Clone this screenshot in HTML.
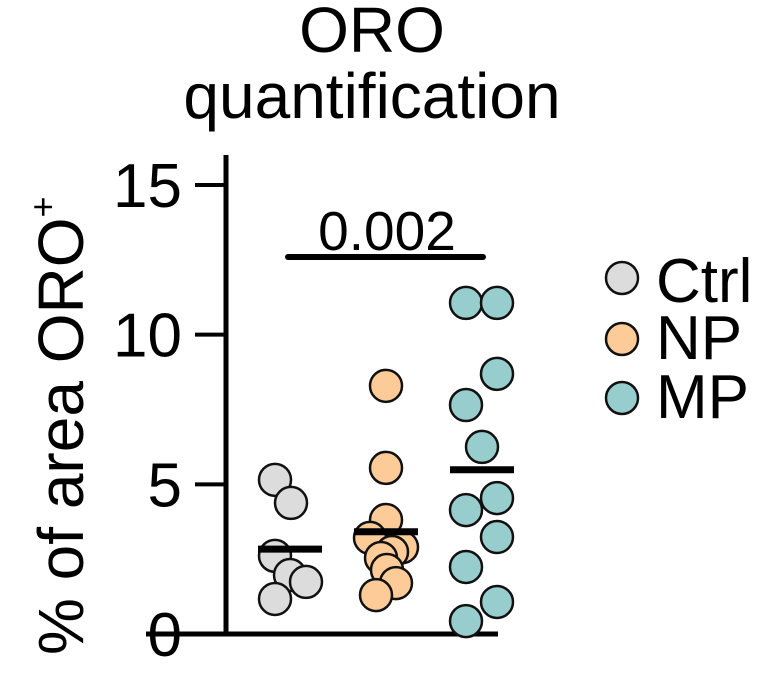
<!DOCTYPE html>
<html><head><meta charset="utf-8"><style>
html,body{margin:0;padding:0;background:#fff;}
svg{display:block;font-family:"Liberation Sans",Arial,sans-serif;}
</style></head><body>
<svg id="chart" width="776" height="688" viewBox="0 0 776 688">
  <text x="372" y="52" font-size="64" text-anchor="middle">ORO</text>
  <text x="372" y="118" font-size="64" text-anchor="middle">quantification</text>
  <text transform="translate(83,655) rotate(-90)" font-size="64">% of area ORO<tspan font-size="36" dy="-28">+</tspan></text>
  <g id="axes"></g>
  <g id="marks"></g>
  <line x1="288" y1="257" x2="483" y2="257" stroke="#000" stroke-width="6" stroke-linecap="round"/>
  <text x="387" y="250" font-size="55" text-anchor="middle">0.002</text>
  <g>
    <g><circle cx="622" cy="278" r="16" fill="#dcdcdc" stroke="#111" stroke-width="2.5"/><text x="656" y="302" font-size="62">Ctrl</text></g>
    <g><circle cx="622" cy="339" r="16" fill="#fdcb98" stroke="#111" stroke-width="2.5"/><text x="656" y="359" font-size="62">NP</text></g>
    <g><circle cx="622" cy="398" r="16" fill="#97cdcc" stroke="#111" stroke-width="2.5"/><text x="656" y="418" font-size="62">MP</text></g>
  </g>
</svg>
<script>
const categories = ["Ctrl", "NP", "MP"];
const ctrlValues = [5.15, 4.38, 2.61, 1.97, 1.74, 1.17];
const npValues = [8.29, 5.55, 3.81, 3.21, 2.9, 2.74, 2.54, 2.14, 1.70, 1.30];
const mpValues = [11.06, 11.06, 8.69, 7.65, 6.25, 4.54, 4.14, 3.24, 2.24, 1.07, 0.43];
const yTicks = [0, 5, 10, 15];
const tickLabels = ["0", "5", "10", "15"];

const series = [ctrlValues, npValues, mpValues];
const colors = ["#dcdcdc", "#fdcb98", "#97cdcc"];
// horizontal jitter offsets (px) to mimic scatter layout
const jitter = [
  [-15, 1, -15, 0, 16, -15],
  [0, 0, 0, -16, 16, 6, -5, 1, 10, -10],
  [-16, 15, 15, -16, 0, 15, -16, 15, -16, 15, -16]
];
const NS = "http://www.w3.org/2000/svg";
function y(v){ return 634 - v * (449 / 15); }
function xc(i){ return 290 + i * 96; }
function mk(tag, attrs, parent){ const e=document.createElementNS(NS,tag); for(const k in attrs) e.setAttribute(k,attrs[k]); parent.appendChild(e); return e; }

const axes = document.getElementById("axes");
let l = mk("line",{x1:226,y1:155,x2:226,y2:634,stroke:"#000","stroke-width":5},axes);


l = mk("line",{x1:146,y1:634,x2:498,y2:634,stroke:"#000","stroke-width":5},axes);


yTicks.forEach((t,i)=>{
  const tk = mk("line",{x1:195,y1:y(t),x2:226,y2:y(t),stroke:"#000","stroke-width":4},axes);
  
  
  const tx = mk("text",{x:182,y:y(t)+22,"font-size":62,"text-anchor":"end"},axes);
  tx.textContent = tickLabels[i];
  
  
});

const marks = document.getElementById("marks");
series.forEach((vals,gi)=>{
  vals.forEach((v,j)=>{
    const c = mk("circle",{cx:xc(gi)+(jitter[gi][j]||0),cy:y(v),r:16,fill:colors[gi],stroke:"#111","stroke-width":2.5},marks);
    
    
  });
  const mean = vals.reduce((a,b)=>a+b,0)/vals.length;
  const m = mk("line",{x1:xc(gi)-32,y1:y(mean),x2:xc(gi)+32,y2:y(mean),stroke:"#000","stroke-width":7},marks);
  
  
});
</script>
</body></html>
